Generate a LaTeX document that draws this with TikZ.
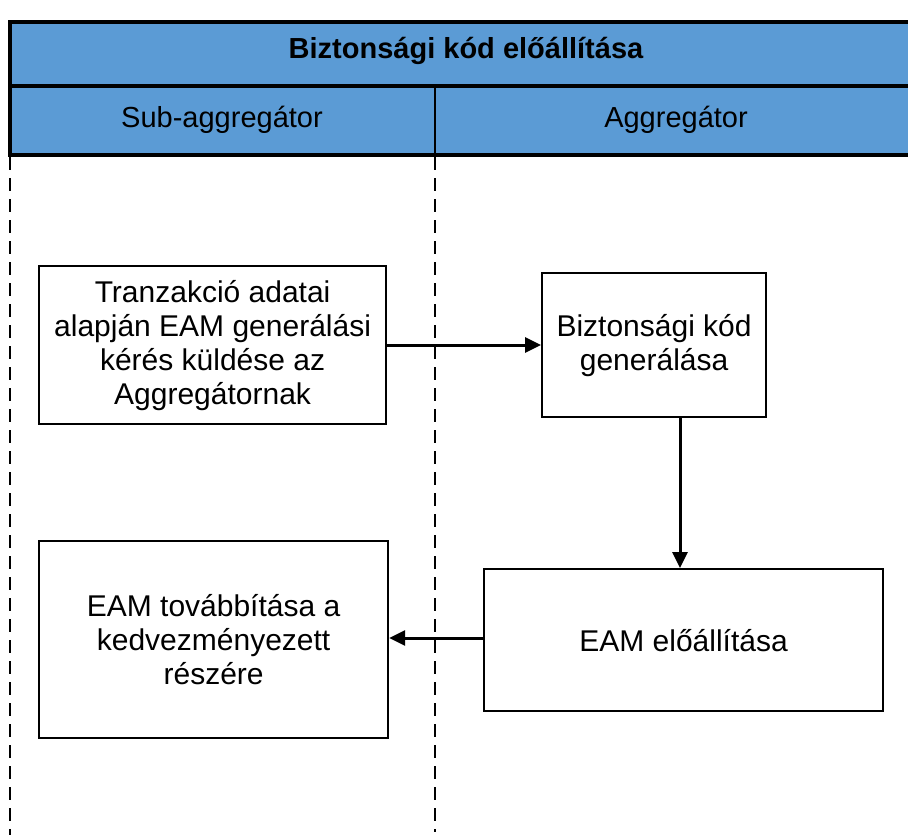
\documentclass[tikz,border=0pt]{standalone}
\usepackage{fontspec}
\setmainfont{Liberation Sans}
\usetikzlibrary{arrows.meta}
\definecolor{hdrblue}{HTML}{5B9BD5}
\begin{document}
\begin{tikzpicture}[x=1pt,y=-1pt,
  stepbox/.style={draw=black,line width=2.2pt,fill=white,align=center,
    font=\fontsize{30}{34}\selectfont,anchor=north west,inner sep=0pt},
  flow/.style={line width=3pt,-{Triangle[length=16pt,width=15pt]}},
  lane/.style={line width=2pt,dash pattern=on 13pt off 8pt}]
\useasboundingbox (0,0) rectangle (908,835);
% swimlane header
\begin{scope}
\clip (0,0) rectangle (908,835);
\fill[hdrblue] (10,22) rectangle (920,155);
\draw[line width=3.2pt] (920,22) -- (10,22) -- (10,155) -- (920,155);
\draw[line width=3.2pt] (10,86) -- (920,86);
\draw[line width=2.2pt] (435,86) -- (435,155);
\end{scope}
\node[font=\fontsize{29}{30}\selectfont\bfseries] (title) at (466,51) {Biztonsági kód előállítása};
\node[font=\fontsize{29}{30}\selectfont] (laneA) at (222,120) {Sub-aggregátor};
\node[font=\fontsize{29}{30}\selectfont] (laneB) at (676,120) {Aggregátor};
% lane separators
\draw[lane] (10,157) -- (10,835);
\draw[lane] (435,157) -- (435,832);
% process steps
\node[stepbox,minimum width=347pt,minimum height=158pt] (s1) at (38,265)
  {Tranzakció adatai\\alapján EAM generálási\\kérés küldése az\\Aggregátornak};
\node[stepbox,minimum width=224pt,minimum height=144pt] (s2) at (541,272)
  {Biztonsági kód\\generálása};
\node[stepbox,minimum width=399pt,minimum height=142pt] (s3) at (483,568)
  {EAM előállítása};
\node[stepbox,minimum width=349pt,minimum height=197pt] (s4) at (38,540)
  {EAM továbbítása a\\kedvezményezett\\részére};
% connectors
\draw[flow] (s1.east |- 0,345) -- (s2.west |- 0,345);
\draw[flow] (s2.south -| 680,0) -- (s3.north -| 680,0);
\draw[flow] (s3.west |- 0,638) -- (s4.east |- 0,638);
\end{tikzpicture}
\end{document}
